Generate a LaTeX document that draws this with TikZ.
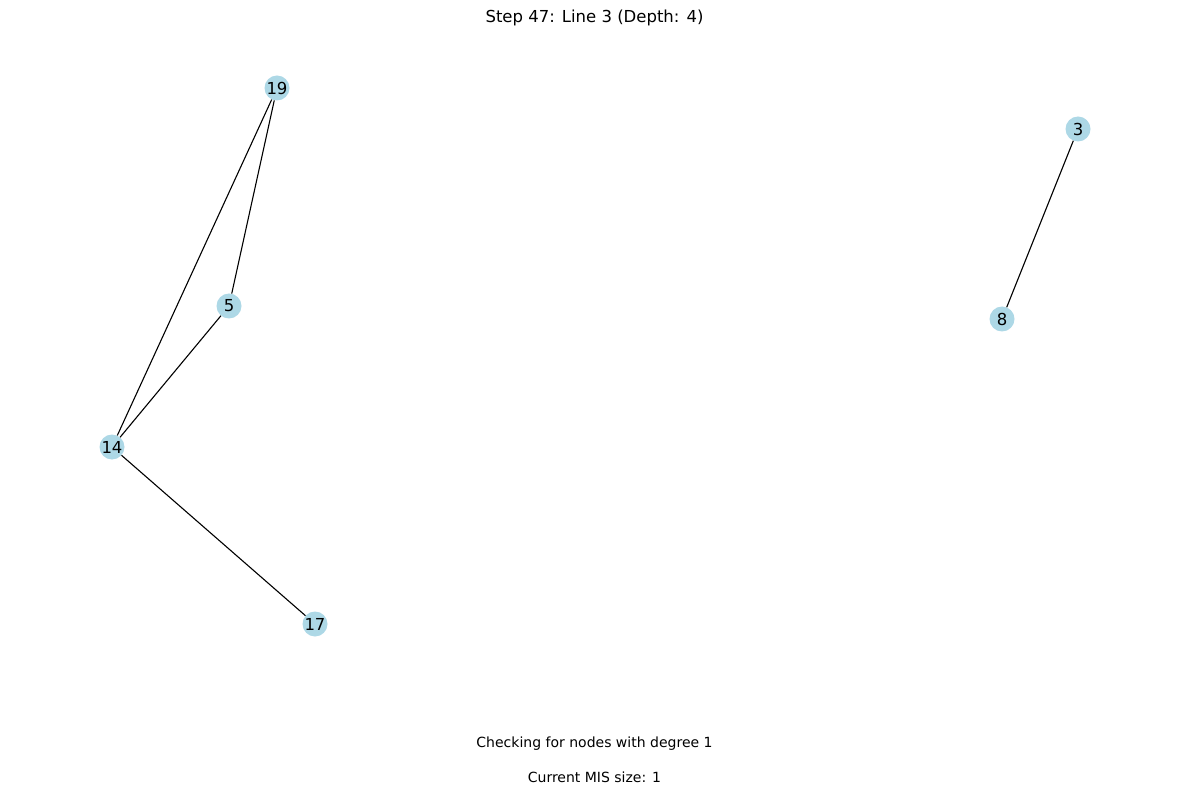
\documentclass[tikz,border=0pt]{standalone}
\usepackage{fontspec}
\setmainfont{DejaVu Sans}
\definecolor{nodeblue}{RGB}{173,216,230}
\begin{document}
\begin{tikzpicture}[x=1pt,y=-1pt,
  vert/.style={circle,fill=nodeblue,minimum size=25pt,inner sep=0pt,font=\fontsize{16.5}{18}\selectfont},
  edge/.style={draw=black,line width=1.1pt},
  lbl/.style={font=\fontsize{14}{16}\selectfont}]
\useasboundingbox (0,0) rectangle (1189,794);
\node[vert] (n19) at (277,88) {19};
\node[vert] (n3) at (1078,129) {3};
\node[vert] (n5) at (229,306) {5};
\node[vert] (n8) at (1002,319) {8};
\node[vert] (n14) at (112,447) {14};
\node[vert] (n17) at (315,624) {17};
\draw[edge] (n19) -- (n5);
\draw[edge] (n19) -- (n14);
\draw[edge] (n5) -- (n14);
\draw[edge] (n14) -- (n17);
\draw[edge] (n3) -- (n8);
\node[font=\fontsize{16.5}{18}\selectfont] (title) at (594.5,18) {Step 47: Line 3 (Depth: 4)};
\node[lbl] (t1) at (594.5,744) {Checking for nodes with degree 1};
\node[lbl] (t2) at (594.5,777) {Current MIS size: 1};
\end{tikzpicture}
\end{document}
